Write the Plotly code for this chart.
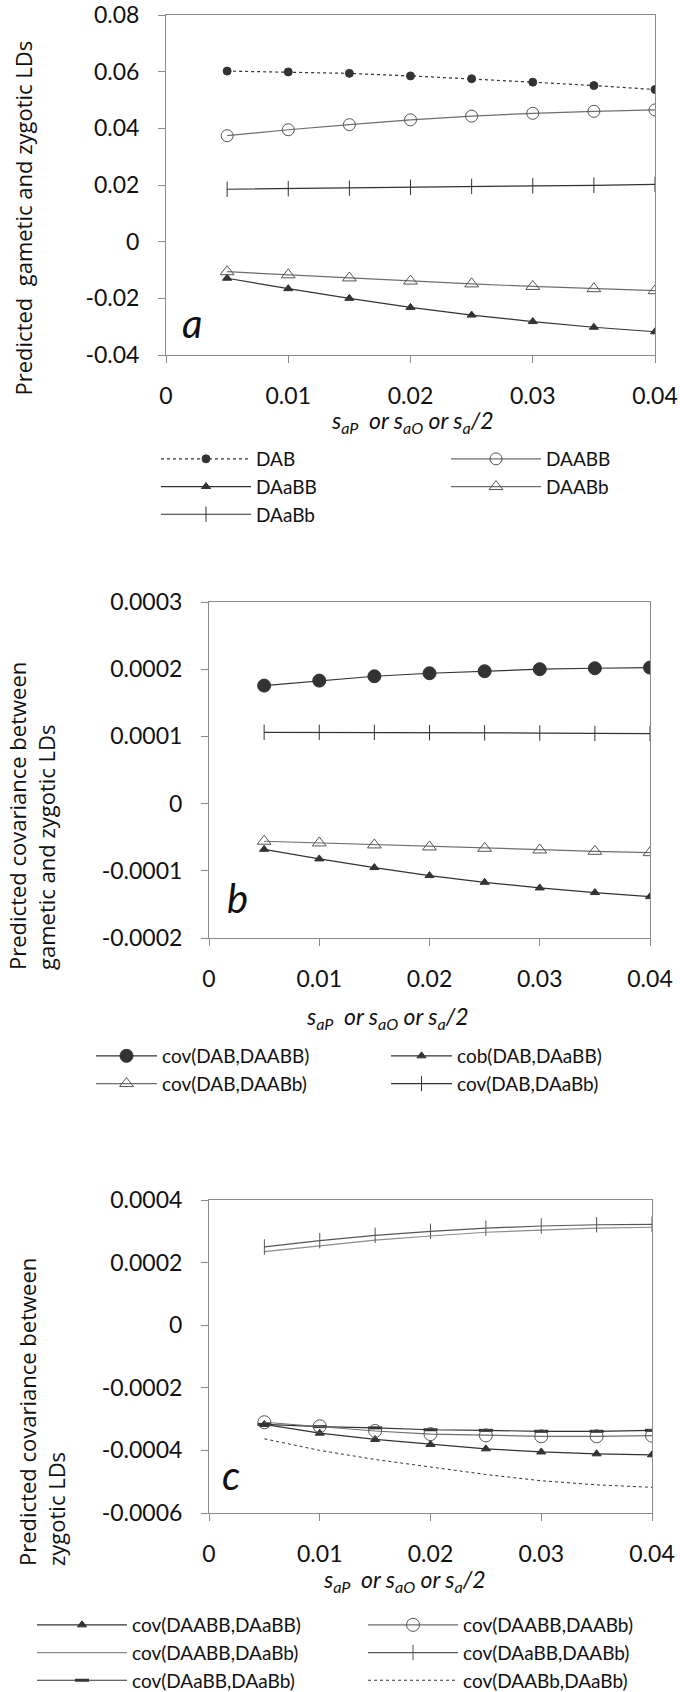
import plotly.graph_objects as go

W, H = 680, 1692

# ---------------- data ----------------
x_vals = [0.005, 0.01, 0.015, 0.02, 0.025, 0.03, 0.035, 0.04]
x_ticks = [0, 0.01, 0.02, 0.03, 0.04]
x_ticktext = ["0", "0.01", "0.02", "0.03", "0.04"]

# panel a
a_DAB = [0.0602, 0.0599, 0.0594, 0.0585, 0.0575, 0.0563, 0.0551, 0.0537]
a_DAABB = [0.0374, 0.0395, 0.0413, 0.0430, 0.0443, 0.0453, 0.0460, 0.0465]
a_DAaBB = [-0.0129, -0.0166, -0.0200, -0.0232, -0.0259, -0.0282, -0.0302, -0.0318]
a_DAABb = [-0.0106, -0.0117, -0.0128, -0.0139, -0.0149, -0.0158, -0.0166, -0.0173]
a_DAaBb = [0.0185, 0.0187, 0.0189, 0.0192, 0.0195, 0.0197, 0.0199, 0.0202]
a_yticks = [-0.04, -0.02, 0, 0.02, 0.04, 0.06, 0.08]
a_yticktext = ["-0.04", "-0.02", "0", "0.02", "0.04", "0.06", "0.08"]

# panel b
b_cov_DAB_DAABB = [0.0001756, 0.000183, 0.0001895, 0.000194, 0.000197, 0.0002, 0.0002014, 0.0002024]
b_cob_DAB_DAaBB = [-0.000068, -0.0000823, -0.0000952, -0.0001071, -0.0001171, -0.0001255, -0.0001324, -0.0001384]
b_cov_DAB_DAABb = [-0.000056, -0.0000585, -0.0000615, -0.0000645, -0.0000665, -0.000069, -0.000071, -0.000073]
b_cov_DAB_DAaBb = [0.000106, 0.000106, 0.000106, 0.0001055, 0.0001053, 0.000105, 0.0001045, 0.0001042]
b_yticks = [-0.0002, -0.0001, 0, 0.0001, 0.0002, 0.0003]
b_yticktext = ["-0.0002", "-0.0001", "0", "0.0001", "0.0002", "0.0003"]

# panel c
c_AABB_aaBB = [-0.000317, -0.000345, -0.000365, -0.000381, -0.000395, -0.000405, -0.000411, -0.000414]
c_AABB_AABb = [-0.00031, -0.000323, -0.000338, -0.000348, -0.000352, -0.000355, -0.000355, -0.000353]
c_AABB_aaBb = [0.000235, 0.000253, 0.000272, 0.000285, 0.000297, 0.000304, 0.00031, 0.000313]
c_aaBB_AABb = [0.00025, 0.00027, 0.000287, 0.0003, 0.00031, 0.000317, 0.000321, 0.000322]
c_aaBB_aaBb = [-0.000317, -0.000324, -0.000328, -0.000334, -0.000336, -0.000339, -0.000339, -0.000336]
c_AABb_aaBb = [-0.000363, -0.0004, -0.000429, -0.000454, -0.000477, -0.000497, -0.00051, -0.000518]
c_yticks = [-0.0006, -0.0004, -0.0002, 0, 0.0002, 0.0004]
c_yticktext = ["-0.0006", "-0.0004", "-0.0002", "0", "0.0002", "0.0004"]

# ---------------- style ----------------
FONT = "Lato"
TFONT = "Open Sans"
DARK = "#333333"
MID = "#6e6e6e"
AXC = "#8a8a8a"


def px_x(p):
    return p / W


def px_y(p):
    return 1 - p / H


fig = go.Figure()


def add(x, y, name, xa, ya, legend, color, dash="solid", symbol=None, msize=8,
        mcolor=None, mfill=None, mline=1, lw=1.2):
    marker = None
    if symbol is not None:
        marker = dict(symbol=symbol, size=msize,
                      color=mfill if mfill is not None else (mcolor or color),
                      line=dict(color=mcolor or color, width=mline))
    fig.add_trace(go.Scatter(
        x=x, y=y, name=name, xaxis=xa, yaxis=ya, legend=legend,
        mode="lines+markers" if symbol else "lines",
        line=dict(color=color, width=lw, dash=dash),
        marker=marker, hoverinfo="skip"))


# panel a
add(x_vals, a_DAB, "DAB", "x", "y", "legend", DARK, dash="dot", symbol="circle", msize=8)
add(x_vals, a_DAaBB, "DAaBB", "x", "y", "legend", DARK, symbol="triangle-up", msize=8)
add(x_vals, a_DAaBb, "DAaBb", "x", "y", "legend", DARK, symbol="line-ns", msize=11, mline=1)
add(x_vals, a_DAABB, "DAABB", "x", "y", "legend2", MID, symbol="circle-open", msize=12, mcolor="#555555")
add(x_vals, a_DAABb, "DAABb", "x", "y", "legend2", MID, symbol="triangle-up-open", msize=12, mcolor="#555555")

# panel b
add(x_vals, b_cov_DAB_DAABB, "cov(DAB,DAABB)", "x2", "y2", "legend3", DARK, symbol="circle", msize=13)
add(x_vals, b_cov_DAB_DAABb, "cov(DAB,DAABb)", "x2", "y2", "legend3", MID, symbol="triangle-up-open", msize=12, mcolor="#555555")
add(x_vals, b_cob_DAB_DAaBB, "cob(DAB,DAaBB)", "x2", "y2", "legend4", DARK, symbol="triangle-up", msize=8)
add(x_vals, b_cov_DAB_DAaBb, "cov(DAB,DAaBb)", "x2", "y2", "legend4", DARK, symbol="line-ns", msize=11, mline=1)

# panel c
add(x_vals, c_AABB_aaBB, "cov(DAABB,DAaBB)", "x3", "y3", "legend5", DARK, symbol="triangle-up", msize=8)
add(x_vals, c_AABB_aaBb, "cov(DAABB,DAaBb)", "x3", "y3", "legend5", "#8c8c8c")
add(x_vals, c_aaBB_aaBb, "cov(DAaBB,DAaBb)", "x3", "y3", "legend5", DARK, symbol="line-ew", msize=10, mline=3)
add(x_vals, c_AABB_AABb, "cov(DAABB,DAABb)", "x3", "y3", "legend6", MID, symbol="circle-open", msize=13, mcolor="#555555")
add(x_vals, c_aaBB_AABb, "cov(DAaBB,DAABb)", "x3", "y3", "legend6", "#555555", symbol="line-ns", msize=11, mline=1)
add(x_vals, c_AABb_aaBb, "cov(DAABb,DAaBb)", "x3", "y3", "legend6", DARK, dash="dot", lw=1)

# ---------------- axes ----------------
panels = {
    "a": dict(x0=166, x1=655, y0=15, y1=355, yr=[-0.04, 0.08], yt=a_yticks, ytt=a_yticktext),
    "b": dict(x0=209, x1=650, y0=602, y1=938, yr=[-0.0002, 0.0003], yt=b_yticks, ytt=b_yticktext),
    "c": dict(x0=209, x1=652, y0=1200, y1=1513, yr=[-0.0006, 0.0004], yt=c_yticks, ytt=c_yticktext),
}

common = dict(showgrid=False, zeroline=False, showline=True, linecolor=AXC, linewidth=1,
              mirror=True, ticks="outside", ticklen=7, tickcolor=AXC, tickwidth=1,
              automargin=False, ticklabeloverflow="allow",
              tickfont=dict(family=FONT, size=23, color="#111111"))

for i, key in enumerate(["a", "b", "c"]):
    p = panels[key]
    sfx = "" if i == 0 else str(i + 1)
    fig.layout["xaxis" + sfx] = dict(
        domain=[px_x(p["x0"]), px_x(p["x1"])], anchor="y" + sfx, range=[0, 0.04],
        tickvals=x_ticks, ticktext=x_ticktext, ticklabelstandoff=13, **common)
    fig.layout["yaxis" + sfx] = dict(
        domain=[px_y(p["y1"]), px_y(p["y0"])], anchor="x" + sfx, range=p["yr"],
        tickvals=p["yt"], ticktext=p["ytt"], ticklabelstandoff=14, **common)

# ---------------- annotations ----------------
xtitle = "<i>s<sub>aP</sub>  or s<sub>aO</sub> or s<sub>a</sub>/2</i>"
ann = []
for cx, cy in [(413, 422), (387, 1017), (404, 1580)]:
    ann.append(dict(text=xtitle, x=px_x(cx), y=px_y(cy), xref="paper", yref="paper",
                    xanchor="center", yanchor="middle", showarrow=False,
                    font=dict(family=FONT, size=23, color="#111111")))

for text, cx, by in [("Predicted  gametic and zygotic LDs", 22, 398),
                     ("Predicted covariance between<br>gametic and zygotic LDs", 31, 972),
                     ("Predicted covariance between<br>zygotic LDs", 41, 1568)]:
    ann.append(dict(text=text, x=px_x(cx), y=px_y(by), xref="paper", yref="paper",
                    xanchor="center", yanchor="bottom", showarrow=False, textangle=-90,
                    align="left", font=dict(family=TFONT, size=22, color="#111111")))

for text, cx, cy in [("a", 192, 323), ("b", 237, 898), ("c", 231, 1475)]:
    ann.append(dict(text="<i>" + text + "</i>", x=px_x(cx), y=px_y(cy), xref="paper", yref="paper",
                    xanchor="center", yanchor="middle", showarrow=False,
                    font=dict(family=FONT, size=40, color="#111111")))

# ---------------- legends ----------------
def leg(xpx, ypx, iw=90):
    return dict(x=px_x(xpx), y=px_y(ypx), xanchor="left", yanchor="top",
                bgcolor="rgba(0,0,0,0)", borderwidth=0, tracegroupgap=0,
                itemwidth=iw, font=dict(family=FONT, size=19, color="#111111"),
                itemclick=False, itemdoubleclick=False)


fig.update_layout(
    width=W, height=H, margin=dict(l=0, r=0, t=0, b=0, autoexpand=False),
    paper_bgcolor="white", plot_bgcolor="white",
    font=dict(family=FONT, size=19, color="#111111"),
    annotations=ann,
    legend=leg(156, 440),
    legend2=leg(446, 440),
    legend3=leg(91, 1037, 61),
    legend4=leg(386, 1037, 61),
    legend5=leg(32, 1606),
    legend6=leg(363, 1606),
)

fig.write_html("out.html", post_script="document.body.style.margin='0';",
               config={"displayModeBar": False})
